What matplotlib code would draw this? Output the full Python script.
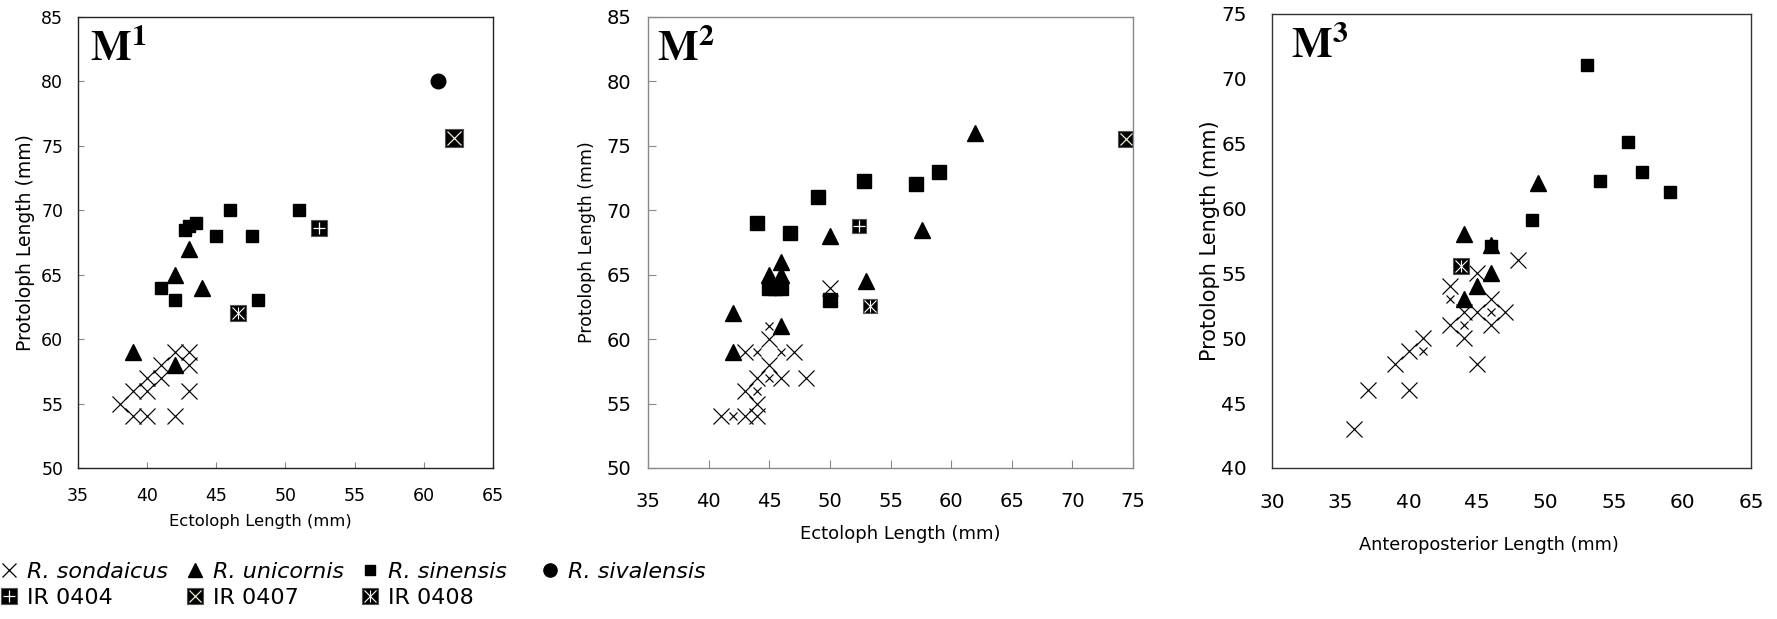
import matplotlib
matplotlib.use("Agg")
import matplotlib.pyplot as plt
from matplotlib.lines import Line2D
from matplotlib.legend_handler import HandlerTuple

# ---- M1 ----
m1_sondaicus_x = [38, 39, 40, 42, 39, 40, 40, 41, 41, 42, 43, 43, 43]
m1_sondaicus_y = [55, 54, 54, 54, 56, 56, 57, 57, 58, 59, 59, 58, 56]
m1_small_x = []
m1_small_y = []
m1_unicornis_x = [43, 42, 44, 39, 42]
m1_unicornis_y = [67, 65, 64, 59, 58]
m1_sinensis_x = [42.7, 43.0, 43.5, 46, 51, 45, 47.6, 41, 42, 48]
m1_sinensis_y = [68.5, 68.8, 69.0, 70, 70, 68, 68, 64, 63, 63]
m1_sivalensis_x = [61]
m1_sivalensis_y = [80]
m1_ir0404_x, m1_ir0404_y = [52.4], [68.6]
m1_ir0407_x, m1_ir0407_y = [62.2], [75.6]
m1_ir0408_x, m1_ir0408_y = [46.6], [62.0]

# ---- M2 ----
m2_sondaicus_x = [41, 43, 44, 44, 43, 44, 46, 48, 45, 43, 47, 45, 50]
m2_sondaicus_y = [54, 54, 54, 55, 56, 57, 57, 57, 58, 59, 59, 60, 64]
m2_small_x = [42, 44, 45, 44, 46, 45]
m2_small_y = [54, 56, 57, 59, 59, 61]
m2_unicornis_x = [45, 46, 46, 46, 42, 42, 50, 53, 57.6, 62]
m2_unicornis_y = [65, 66, 65, 61, 62, 59, 68, 64.5, 68.5, 76]
m2_sinensis_x = [44, 46.7, 49, 52.8, 57.1, 59, 50, 45, 45.5, 46]
m2_sinensis_y = [69, 68.2, 71, 72.3, 72, 73, 63, 64, 64, 64]
m2_sivalensis_x = []
m2_sivalensis_y = []
m2_ir0404_x, m2_ir0404_y = [52.4], [68.8]
m2_ir0407_x, m2_ir0407_y = [74.4], [75.5]
m2_ir0408_x, m2_ir0408_y = [53.3], [62.6]

# ---- M3 ----
m3_sondaicus_x = [36, 37, 40, 39, 40, 41, 45, 48, 43, 43, 44, 45, 45, 46, 46, 47, 44]
m3_sondaicus_y = [43, 46, 46, 48, 49, 50, 48, 56, 54, 51, 50, 55, 52, 53, 51, 52, 52]
m3_small_x = [41, 43, 44, 46]
m3_small_y = [49, 53, 51, 52]
m3_unicornis_x = [44, 49.4, 46, 45, 44, 46]
m3_unicornis_y = [58, 62, 55, 54, 53, 57.2]
m3_sinensis_x = [53, 56, 54, 57, 59.1, 49, 46]
m3_sinensis_y = [71.1, 65.1, 62.1, 62.8, 61.3, 59.1, 57.1]
m3_sivalensis_x = []
m3_sivalensis_y = []
m3_ir0404_x, m3_ir0404_y = [], []
m3_ir0407_x, m3_ir0407_y = [], []
m3_ir0408_x, m3_ir0408_y = [43.8], [55.6]

fig = plt.figure(figsize=(17.77, 6.19), dpi=100)


def draw_ir(ax, x, y, size, kind):
    ax.plot(x, y, ls="none", marker="s", ms=size, mfc="black", mec="#555555", mew=0.8)
    inner = size * 0.75
    if kind == "0404":
        ax.plot(x, y, ls="none", marker="+", ms=inner, mec="white", mew=0.9)
    elif kind == "0407":
        ax.plot(x, y, ls="none", marker="x", ms=inner, mec="#efeccb", mew=0.9)
    else:
        ax.plot(x, y, ls="none", marker="x", ms=inner, mec="white", mew=0.8)
        ax.plot(x, y, ls="none", marker="|", ms=inner, mec="white", mew=0.8)


def draw_panel(rect, d, xlim, ylim, title, xlabel, sizes, spine_color,
               tick_fs, xlabel_fs, ylabel_fs, tick_len, xpad, ypad,
               xlab_pos, ylab_x, title_pos):
    ax = fig.add_axes(rect)
    cross, tri, sq, ir = sizes
    ax.plot(d["sond"][0], d["sond"][1], ls="none", marker="x", ms=cross, mec="black", mew=0.85)
    ax.plot(d["small"][0], d["small"][1], ls="none", marker="x", ms=cross * 0.5, mec="black", mew=0.85)
    ax.plot(d["uni"][0], d["uni"][1], ls="none", marker="^", ms=tri, color="black")
    ax.plot(d["sin"][0], d["sin"][1], ls="none", marker="s", ms=sq, color="black")
    ax.plot(d["siv"][0], d["siv"][1], ls="none", marker="o", ms=10.5, color="black")
    draw_ir(ax, d["ir0404"][0], d["ir0404"][1], ir, "0404")
    draw_ir(ax, d["ir0407"][0], d["ir0407"][1], ir * 1.08, "0407")
    draw_ir(ax, d["ir0408"][0], d["ir0408"][1], ir, "0408")

    ax.set_xlim(*xlim)
    ax.set_ylim(*ylim)
    ax.set_xticks(range(xlim[0], xlim[1] + 1, 5))
    ax.set_yticks(range(ylim[0], ylim[1] + 1, 5))
    ax.tick_params(direction="in", length=tick_len, color="#888888", labelsize=tick_fs)
    ax.tick_params(axis="x", pad=xpad)
    ax.tick_params(axis="y", pad=ypad)
    for s in ax.spines.values():
        s.set_color(spine_color)
        s.set_linewidth(1.0)
    ax.set_xlabel(xlabel, fontsize=xlabel_fs)
    ax.set_ylabel("Protoloph Length (mm)", fontsize=ylabel_fs)
    ax.xaxis.set_label_coords(*xlab_pos)
    ax.yaxis.set_label_coords(ylab_x, 0.5)
    ax.text(title_pos[0], title_pos[1], r"$\mathbf{M}^{\mathbf{%s}}$" % title,
            transform=ax.transAxes, ha="left", va="top", fontsize=31,
            math_fontfamily="stix")
    return ax


m1 = dict(sond=(m1_sondaicus_x, m1_sondaicus_y), small=(m1_small_x, m1_small_y),
          uni=(m1_unicornis_x, m1_unicornis_y), sin=(m1_sinensis_x, m1_sinensis_y),
          siv=(m1_sivalensis_x, m1_sivalensis_y), ir0404=(m1_ir0404_x, m1_ir0404_y),
          ir0407=(m1_ir0407_x, m1_ir0407_y), ir0408=(m1_ir0408_x, m1_ir0408_y))
m2 = dict(sond=(m2_sondaicus_x, m2_sondaicus_y), small=(m2_small_x, m2_small_y),
          uni=(m2_unicornis_x, m2_unicornis_y), sin=(m2_sinensis_x, m2_sinensis_y),
          siv=(m2_sivalensis_x, m2_sivalensis_y), ir0404=(m2_ir0404_x, m2_ir0404_y),
          ir0407=(m2_ir0407_x, m2_ir0407_y), ir0408=(m2_ir0408_x, m2_ir0408_y))
m3 = dict(sond=(m3_sondaicus_x, m3_sondaicus_y), small=(m3_small_x, m3_small_y),
          uni=(m3_unicornis_x, m3_unicornis_y), sin=(m3_sinensis_x, m3_sinensis_y),
          siv=(m3_sivalensis_x, m3_sivalensis_y), ir0404=(m3_ir0404_x, m3_ir0404_y),
          ir0407=(m3_ir0407_x, m3_ir0407_y), ir0408=(m3_ir0408_x, m3_ir0408_y))

draw_panel([0.0439, 0.244, 0.2335, 0.7286], m1, (35, 65), (50, 85), "1",
           "Ectoloph Length (mm)", (11.5, 11.5, 9.0, 12), "#222222",
           12.5, 11.8, 13.5, 4, 13.4, 10.6, (0.44, -0.103), -0.104, (0.03, 0.975))
draw_panel([0.3647, 0.244, 0.2729, 0.7286], m2, (35, 75), (50, 85), "2",
           "Ectoloph Length (mm)", (11.5, 11.0, 9.8, 10.6), "#888888",
           14, 13, 12.5, 6, 17, 12, (0.52, -0.126), -0.107, (0.019, 0.975))
draw_panel([0.7158, 0.244, 0.2696, 0.7334], m3, (30, 65), (40, 75), "3",
           "Anteroposterior Length (mm)", (12.0, 11.4, 9.0, 12), "#333333",
           14.5, 12.8, 15, 0, 17.7, 18, (0.452, -0.150), -0.1075, (0.04, 0.975))


# ---- legend, placed column by column ----
def ir_handle(kind):
    sq = Line2D([], [], ls="none", marker="s", ms=11, mfc="black", mec="#555555", mew=0.8)
    if kind == "0404":
        return (sq, Line2D([], [], ls="none", marker="+", ms=8, mec="white", mew=0.9))
    if kind == "0407":
        return (sq, Line2D([], [], ls="none", marker="x", ms=8, mec="#efeccb", mew=0.9))
    return (sq, Line2D([], [], ls="none", marker="x", ms=8, mec="white", mew=0.8),
            Line2D([], [], ls="none", marker="|", ms=8, mec="white", mew=0.8))


columns = [
    [(Line2D([], [], ls="none", marker="x", ms=9.5, mec="black", mew=0.9), "R. sondaicus", True),
     (ir_handle("0404"), "IR 0404", False)],
    [(Line2D([], [], ls="none", marker="^", ms=10.5, color="black"), "R. unicornis", True),
     (ir_handle("0407"), "IR 0407", False)],
    [(Line2D([], [], ls="none", marker="s", ms=7.5, color="black"), "R. sinensis", True),
     (ir_handle("0408"), "IR 0408", False)],
    [(Line2D([], [], ls="none", marker="o", ms=9.5, color="black"), "R. sivalensis", True)],
]
col_x = [-2, 184, 359, 539]

for cx, entries in zip(col_x, columns):
    handles = [e[0] for e in entries]
    labels = [e[1] for e in entries]
    leg = fig.legend(handles, labels, loc="upper left",
                     bbox_to_anchor=(cx / 1777, 1 - 561.5 / 619),
                     frameon=False, fontsize=16, borderpad=0, borderaxespad=0,
                     handlelength=1.0, handletextpad=0.3, labelspacing=0.3,
                     handler_map={tuple: HandlerTuple(ndivide=1)})
    for t, e in zip(leg.get_texts(), entries):
        if e[2]:
            t.set_fontstyle("italic")

fig.savefig("out.png", dpi=100)
